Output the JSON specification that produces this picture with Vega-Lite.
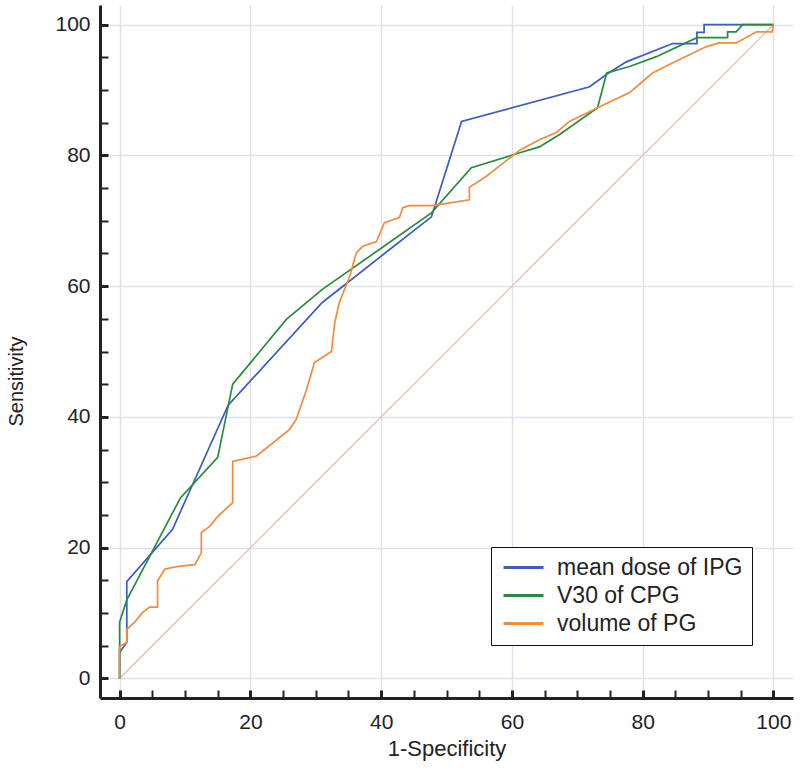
{
  "$schema": "https://vega.github.io/schema/vega-lite/v6.json",
  "autosize": "none",
  "padding": {"left": 100, "top": 5, "right": 7, "bottom": 71},
  "width": 693,
  "height": 693,
  "background": "white",
  "config": {"view": {"stroke": null}, "font": "Liberation Sans"},
  "data": {
    "values": [
      {"series": "chance", "i": 1, "fpr": 0, "sens": 0},
      {"series": "chance", "i": 2, "fpr": 100, "sens": 100},
      {"series": "mean dose of IPG", "i": 1, "fpr": 0, "sens": 0},
      {"series": "mean dose of IPG", "i": 2, "fpr": 0, "sens": 4},
      {"series": "mean dose of IPG", "i": 3, "fpr": 1.1, "sens": 5.5},
      {"series": "mean dose of IPG", "i": 4, "fpr": 1.1, "sens": 14.8},
      {"series": "mean dose of IPG", "i": 5, "fpr": 8.1, "sens": 22.8},
      {"series": "mean dose of IPG", "i": 6, "fpr": 16.6, "sens": 41.8},
      {"series": "mean dose of IPG", "i": 7, "fpr": 31, "sens": 57.5},
      {"series": "mean dose of IPG", "i": 8, "fpr": 41.3, "sens": 65.6},
      {"series": "mean dose of IPG", "i": 9, "fpr": 47.7, "sens": 70.6},
      {"series": "mean dose of IPG", "i": 10, "fpr": 52.3, "sens": 85.2},
      {"series": "mean dose of IPG", "i": 11, "fpr": 71.9, "sens": 90.5},
      {"series": "mean dose of IPG", "i": 12, "fpr": 74.5, "sens": 92.4},
      {"series": "mean dose of IPG", "i": 13, "fpr": 77.5, "sens": 94.3},
      {"series": "mean dose of IPG", "i": 14, "fpr": 84.6, "sens": 97.1},
      {"series": "mean dose of IPG", "i": 15, "fpr": 88.3, "sens": 97.1},
      {"series": "mean dose of IPG", "i": 16, "fpr": 88.3, "sens": 98.8},
      {"series": "mean dose of IPG", "i": 17, "fpr": 89.4, "sens": 98.8},
      {"series": "mean dose of IPG", "i": 18, "fpr": 89.4, "sens": 100},
      {"series": "mean dose of IPG", "i": 19, "fpr": 100, "sens": 100},
      {"series": "V30 of CPG", "i": 1, "fpr": 0, "sens": 0},
      {"series": "V30 of CPG", "i": 2, "fpr": 0, "sens": 8.6},
      {"series": "V30 of CPG", "i": 3, "fpr": 1.1, "sens": 12},
      {"series": "V30 of CPG", "i": 4, "fpr": 9.3, "sens": 27.6},
      {"series": "V30 of CPG", "i": 5, "fpr": 15, "sens": 33.8},
      {"series": "V30 of CPG", "i": 6, "fpr": 17.3, "sens": 45},
      {"series": "V30 of CPG", "i": 7, "fpr": 25.5, "sens": 54.9},
      {"series": "V30 of CPG", "i": 8, "fpr": 31, "sens": 59.5},
      {"series": "V30 of CPG", "i": 9, "fpr": 41.3, "sens": 66.7},
      {"series": "V30 of CPG", "i": 10, "fpr": 47.7, "sens": 71.2},
      {"series": "V30 of CPG", "i": 11, "fpr": 53.8, "sens": 78.1},
      {"series": "V30 of CPG", "i": 12, "fpr": 61.2, "sens": 80.4},
      {"series": "V30 of CPG", "i": 13, "fpr": 64.2, "sens": 81.3},
      {"series": "V30 of CPG", "i": 14, "fpr": 67.3, "sens": 83.2},
      {"series": "V30 of CPG", "i": 15, "fpr": 73.1, "sens": 87.3},
      {"series": "V30 of CPG", "i": 16, "fpr": 74.5, "sens": 92.6},
      {"series": "V30 of CPG", "i": 17, "fpr": 78, "sens": 93.6},
      {"series": "V30 of CPG", "i": 18, "fpr": 82.1, "sens": 95.1},
      {"series": "V30 of CPG", "i": 19, "fpr": 88.3, "sens": 98},
      {"series": "V30 of CPG", "i": 20, "fpr": 93, "sens": 98},
      {"series": "V30 of CPG", "i": 21, "fpr": 93, "sens": 98.9},
      {"series": "V30 of CPG", "i": 22, "fpr": 94.3, "sens": 98.9},
      {"series": "V30 of CPG", "i": 23, "fpr": 95.3, "sens": 100},
      {"series": "V30 of CPG", "i": 24, "fpr": 100, "sens": 100},
      {"series": "volume of PG", "i": 1, "fpr": 0, "sens": 0},
      {"series": "volume of PG", "i": 2, "fpr": 0, "sens": 4.9},
      {"series": "volume of PG", "i": 3, "fpr": 1.1, "sens": 5.5},
      {"series": "volume of PG", "i": 4, "fpr": 1.1, "sens": 7.5},
      {"series": "volume of PG", "i": 5, "fpr": 2.3, "sens": 8.6},
      {"series": "volume of PG", "i": 6, "fpr": 3.5, "sens": 10.1},
      {"series": "volume of PG", "i": 7, "fpr": 4.6, "sens": 10.9},
      {"series": "volume of PG", "i": 8, "fpr": 5.8, "sens": 10.9},
      {"series": "volume of PG", "i": 9, "fpr": 5.8, "sens": 14.9},
      {"series": "volume of PG", "i": 10, "fpr": 6.9, "sens": 16.7},
      {"series": "volume of PG", "i": 11, "fpr": 8.7, "sens": 17.1},
      {"series": "volume of PG", "i": 12, "fpr": 11.5, "sens": 17.4},
      {"series": "volume of PG", "i": 13, "fpr": 12.5, "sens": 19.2},
      {"series": "volume of PG", "i": 14, "fpr": 12.5, "sens": 22.3},
      {"series": "volume of PG", "i": 15, "fpr": 13.8, "sens": 23.3},
      {"series": "volume of PG", "i": 16, "fpr": 15, "sens": 24.8},
      {"series": "volume of PG", "i": 17, "fpr": 17.3, "sens": 26.9},
      {"series": "volume of PG", "i": 18, "fpr": 17.3, "sens": 33.2},
      {"series": "volume of PG", "i": 19, "fpr": 20.9, "sens": 34},
      {"series": "volume of PG", "i": 20, "fpr": 26, "sens": 38.1},
      {"series": "volume of PG", "i": 21, "fpr": 27, "sens": 39.6},
      {"series": "volume of PG", "i": 22, "fpr": 28.6, "sens": 44.2},
      {"series": "volume of PG", "i": 23, "fpr": 29.8, "sens": 48.3},
      {"series": "volume of PG", "i": 24, "fpr": 32.4, "sens": 50},
      {"series": "volume of PG", "i": 25, "fpr": 32.9, "sens": 54.4},
      {"series": "volume of PG", "i": 26, "fpr": 33.6, "sens": 57.5},
      {"series": "volume of PG", "i": 27, "fpr": 35.2, "sens": 61.5},
      {"series": "volume of PG", "i": 28, "fpr": 36.2, "sens": 65.1},
      {"series": "volume of PG", "i": 29, "fpr": 37.2, "sens": 66.1},
      {"series": "volume of PG", "i": 30, "fpr": 39.3, "sens": 66.8},
      {"series": "volume of PG", "i": 31, "fpr": 40.5, "sens": 69.7},
      {"series": "volume of PG", "i": 32, "fpr": 42.8, "sens": 70.5},
      {"series": "volume of PG", "i": 33, "fpr": 43.3, "sens": 72},
      {"series": "volume of PG", "i": 34, "fpr": 44.3, "sens": 72.3},
      {"series": "volume of PG", "i": 35, "fpr": 47.9, "sens": 72.3},
      {"series": "volume of PG", "i": 36, "fpr": 53.5, "sens": 73.2},
      {"series": "volume of PG", "i": 37, "fpr": 53.5, "sens": 75.1},
      {"series": "volume of PG", "i": 38, "fpr": 56.1, "sens": 76.8},
      {"series": "volume of PG", "i": 39, "fpr": 61.2, "sens": 80.8},
      {"series": "volume of PG", "i": 40, "fpr": 64.2, "sens": 82.4},
      {"series": "volume of PG", "i": 41, "fpr": 66.8, "sens": 83.5},
      {"series": "volume of PG", "i": 42, "fpr": 68.8, "sens": 85.2},
      {"series": "volume of PG", "i": 43, "fpr": 73.1, "sens": 87.3},
      {"series": "volume of PG", "i": 44, "fpr": 78, "sens": 89.6},
      {"series": "volume of PG", "i": 45, "fpr": 80, "sens": 91.3},
      {"series": "volume of PG", "i": 46, "fpr": 81.5, "sens": 92.6},
      {"series": "volume of PG", "i": 47, "fpr": 84.3, "sens": 94},
      {"series": "volume of PG", "i": 48, "fpr": 89.7, "sens": 96.6},
      {"series": "volume of PG", "i": 49, "fpr": 91.7, "sens": 97.2},
      {"series": "volume of PG", "i": 50, "fpr": 94.3, "sens": 97.2},
      {"series": "volume of PG", "i": 51, "fpr": 97.4, "sens": 98.9},
      {"series": "volume of PG", "i": 52, "fpr": 99.8, "sens": 98.9},
      {"series": "volume of PG", "i": 53, "fpr": 100, "sens": 100}
    ]
  },
  "encoding": {
    "x": {
      "field": "fpr", "type": "quantitative",
      "scale": {"domain": [-3, 103], "nice": false, "zero": false},
      "axis": {
        "orient": "bottom",
        "values": [0,5,10,15,20,25,30,35,40,45,50,55,60,65,70,75,80,85,90,95,100],
        "labelExpr": "datum.value % 20 === 0 ? datum.label : ''",
        "grid": true, "gridColor": "#dde2e8", "gridWidth": 1.5,
        "gridOpacity": {"condition": {"test": "datum.value % 20 === 0", "value": 1}, "value": 0},
        "tickSize": -8,
        "tickWidth": {"condition": {"test": "datum.value % 20 === 0", "value": 3}, "value": 2},
        "tickColor": "#222",
        "domain": true, "domainWidth": 3, "domainColor": "#222",
        "labelFontSize": 21, "labelColor": "#222", "labelPadding": 21,
        "title": "1-Specificity", "titleFontSize": 22, "titleFontWeight": "normal",
        "titleColor": "#222", "titlePadding": 6
      }
    },
    "y": {
      "field": "sens", "type": "quantitative",
      "scale": {"domain": [-3, 103], "nice": false, "zero": false},
      "axis": {
        "orient": "left",
        "values": [0,5,10,15,20,25,30,35,40,45,50,55,60,65,70,75,80,85,90,95,100],
        "labelExpr": "datum.value % 20 === 0 ? datum.label : ''",
        "grid": true, "gridColor": "#dde2e8", "gridWidth": 1.5,
        "gridOpacity": {"condition": {"test": "datum.value % 20 === 0", "value": 1}, "value": 0},
        "tickSize": -8,
        "tickWidth": {"condition": {"test": "datum.value % 20 === 0", "value": 3}, "value": 2},
        "tickColor": "#222",
        "domain": true, "domainWidth": 3, "domainColor": "#222",
        "labelFontSize": 21, "labelColor": "#222", "labelPadding": 18,
        "title": "Sensitivity", "titleFontSize": 20, "titleFontWeight": "normal",
        "titleColor": "#222", "titlePadding": 28, "titleY": 376
      }
    }
  },
  "layer": [
    {
      "transform": [{"filter": "datum.series === 'chance'"}],
      "mark": {"type": "line", "color": "#e6c3bb", "strokeWidth": 1.5}
    },
    {
      "transform": [{"filter": "datum.series !== 'chance'"}],
      "mark": {"type": "line", "strokeWidth": 1.7},
      "encoding": {
        "color": {
          "field": "series", "type": "nominal",
          "scale": {
            "domain": ["mean dose of IPG", "V30 of CPG", "volume of PG"],
            "range": ["#3a5dc0", "#2a8a3c", "#f28b3c"]
          },
          "legend": {
            "orient": "none", "legendX": 391, "legendY": 542,
            "title": null, "strokeColor": "#111", "fillColor": "white",
            "padding": 9, "symbolType": "M-2,0H2", "symbolSize": 400,
            "symbolOffset": 12,
            "symbolStrokeWidth": 3, "labelFontSize": 23, "labelColor": "#222",
            "labelOffset": 22, "rowPadding": 4, "labelLimit": 400
          }
        },
        "order": {"field": "i", "type": "quantitative"}
      }
    }
  ]
}
